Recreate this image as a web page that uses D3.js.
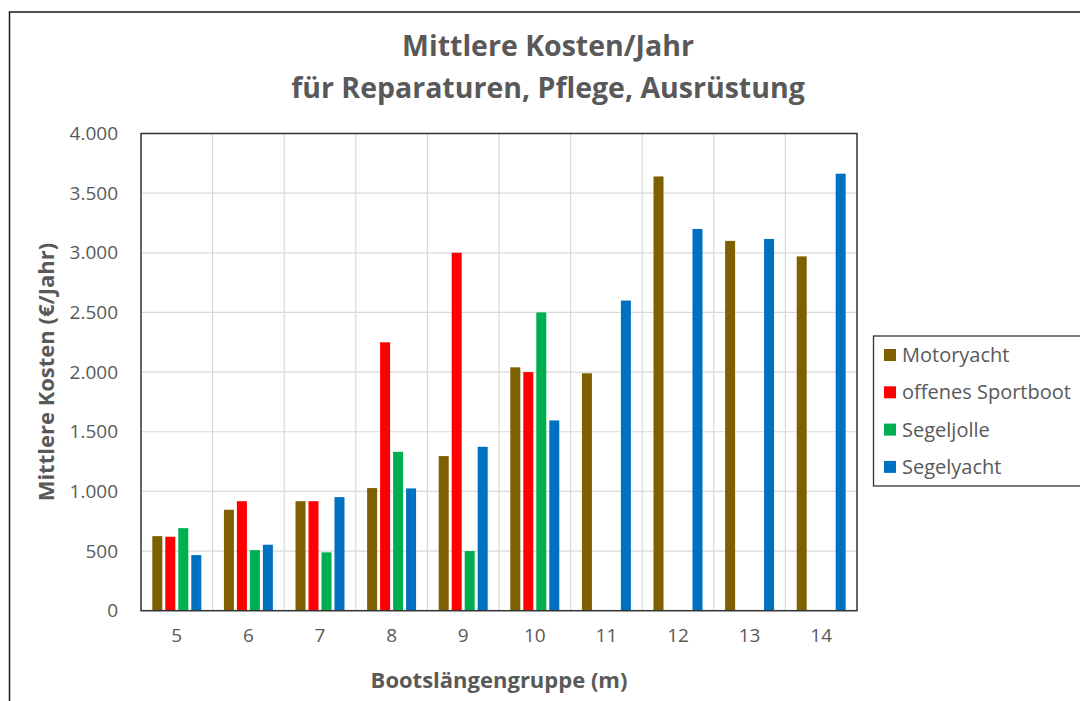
<!DOCTYPE html>
<html><head><meta charset="utf-8">
<script src="https://cdn.jsdelivr.net/npm/d3@7"></script>
<style>
html,body{margin:0;padding:0;background:#fff;}
text{font-family:"Open Sans", Lato, sans-serif;}
</style></head>
<body>
<svg id="chart" width="1080" height="701"></svg>
<script>
const categories = ["5","6","7","8","9","10","11","12","13","14"];
const seriesNames = ["Motoryacht","offenes Sportboot","Segeljolle","Segelyacht"];
const motoryacht = [625, 846, 918, 1028, 1296, 2040, 1990, 3640, 3100, 2970];
const offenesSportboot = [620, 918, 918, 2250, 3000, 2000, 0, 0, 0, 0];
const segeljolle = [692, 508, 489, 1332, 500, 2500, 0, 0, 0, 0];
const segelyacht = [466, 553, 952, 1025, 1374, 1595, 2600, 3200, 3116, 3663];
const yTicks = [0, 500, 1000, 1500, 2000, 2500, 3000, 3500, 4000];
const colors = ["#7F6000", "#FF0000", "#00B050", "#0070C0"];
const titleLines = ["Mittlere Kosten/Jahr", "für Reparaturen, Pflege, Ausrüstung"];
const xTitle = "Bootslängengruppe (m)";
const yTitle = "Mittlere Kosten (€/Jahr)";

const seriesValues = [motoryacht, offenesSportboot, segeljolle, segelyacht];
const data = categories.map((c, i) => ({cat: c, vals: seriesNames.map((s, j) => ({s, v: seriesValues[j][i], j}))}));

const svg = d3.select("#chart");
const plot = {left: 141, top: 133.5, right: 857, bottom: 610.7};
const textColor = "#595959";

// outer border
svg.append("rect").attr("x", 9.5).attr("y", 12).attr("width", 1100).attr("height", 720)
  .attr("fill", "#fff").attr("stroke", "#1a1a1a").attr("stroke-width", 1.5);

const x0 = d3.scaleBand().domain(categories).range([plot.left, plot.right]).padding(0);
const groupPad = x0.bandwidth() * 0.158;
const x1 = d3.scaleBand().domain(seriesNames).range([groupPad, x0.bandwidth() - groupPad]).paddingInner(0.23).paddingOuter(0);
const y = d3.scaleLinear().domain([0, 4000]).range([plot.bottom, plot.top]);

const loc = d3.formatLocale({decimal: ",", thousands: ".", grouping: [3], currency: ["", "€"]});
const fmt = loc.format(",.0f");

// gridlines
const g = svg.append("g");
g.selectAll("line.h").data(yTicks).join("line")
  .attr("x1", plot.left).attr("x2", plot.right)
  .attr("y1", d => y(d)).attr("y2", d => y(d))
  .attr("stroke", "#d9d9d9").attr("stroke-width", 1.2);
g.selectAll("line.v").data(categories.slice(1)).join("line")
  .attr("x1", d => x0(d)).attr("x2", d => x0(d))
  .attr("y1", plot.top).attr("y2", plot.bottom)
  .attr("stroke", "#d9d9d9").attr("stroke-width", 1.2);

// bars
const groups = svg.append("g").selectAll("g").data(data).join("g")
  .attr("transform", d => `translate(${x0(d.cat)},0)`);
groups.selectAll("rect").data(d => d.vals).join("rect")
  .attr("x", d => x1(d.s)).attr("width", x1.bandwidth())
  .attr("y", d => y(d.v)).attr("height", d => y(0) - y(d.v))
  .attr("fill", d => colors[d.j]);

// plot border
svg.append("rect").attr("x", plot.left).attr("y", plot.top)
  .attr("width", plot.right - plot.left).attr("height", plot.bottom - plot.top)
  .attr("fill", "none").attr("stroke", "#333").attr("stroke-width", 1.5);

// y axis
const yAxis = svg.append("g").attr("transform", `translate(${plot.left},0)`)
  .call(d3.axisLeft(y).tickValues(yTicks).tickFormat(fmt).tickSize(0).tickPadding(23));
yAxis.select(".domain").remove();
yAxis.selectAll("text").attr("fill", textColor).attr("font-size", 19);

// x axis
const xAxis = svg.append("g").attr("transform", `translate(0,${plot.bottom})`)
  .call(d3.axisBottom(x0).tickSize(0).tickPadding(18));
xAxis.select(".domain").remove();
xAxis.selectAll("text").attr("fill", textColor).attr("font-size", 19);

// titles
svg.append("text").attr("x", 548).attr("y", 56).attr("text-anchor", "middle")
  .attr("font-size", 28.5).attr("font-weight", "bold").attr("fill", textColor).text(titleLines[0]);
svg.append("text").attr("x", 548).attr("y", 98).attr("text-anchor", "middle")
  .attr("font-size", 28.5).attr("font-weight", "bold").attr("fill", textColor).text(titleLines[1]);
svg.append("text").attr("x", (plot.left + plot.right) / 2).attr("y", 688).attr("text-anchor", "middle")
  .attr("font-size", 22).attr("font-weight", "bold").attr("fill", textColor).text(xTitle);
svg.append("text").attr("transform", `translate(54,${(plot.top + plot.bottom) / 2}) rotate(-90)`)
  .attr("text-anchor", "middle").attr("font-size", 22).attr("font-weight", "bold")
  .attr("fill", textColor).text(yTitle);

// legend
const leg = svg.append("g");
leg.append("rect").attr("x", 873.5).attr("y", 336).attr("width", 230).attr("height", 150)
  .attr("fill", "#fff").attr("stroke", "#333").attr("stroke-width", 1.3);
const items = leg.selectAll("g").data(seriesNames).join("g")
  .attr("transform", (d, i) => `translate(884,${355 + i * 37.3})`);
items.append("rect").attr("x", 0).attr("y", -6).attr("width", 12).attr("height", 12)
  .attr("fill", (d, i) => colors[i]);
items.append("text").attr("x", 18).attr("y", 0).attr("dy", "0.35em")
  .attr("font-size", 20).attr("fill", textColor).text(d => d);
</script>
</body></html>
